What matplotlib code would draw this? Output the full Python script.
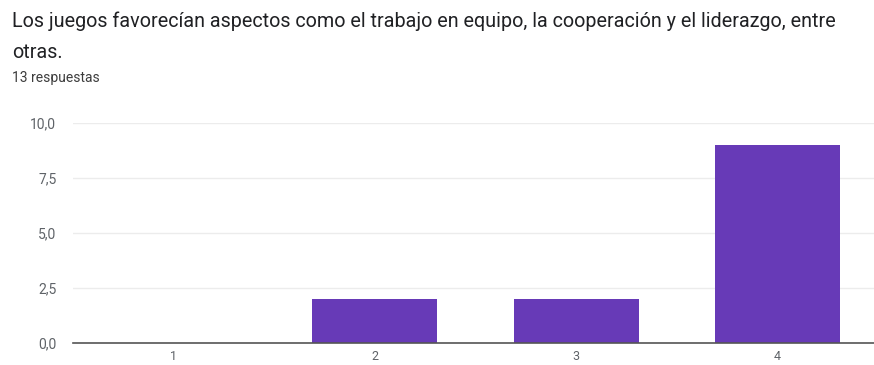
import matplotlib
matplotlib.use("Agg")
import matplotlib.pyplot as plt
from matplotlib.ticker import FuncFormatter

title_line1 = "Los juegos favorecían aspectos como el trabajo en equipo, la cooperación y el liderazgo, entre"
title_line2 = "otras."
subtitle = "13 respuestas"
categories = [1, 2, 3, 4]
counts = [0, 2, 2, 9]
yticks = [0, 2.5, 5, 7.5, 10]

plt.rcParams['font.family'] = ['Roboto', 'DejaVu Sans']

fig = plt.figure(figsize=(8.74, 3.65), dpi=100)
fig.text(12/874, 1 - 27/365, title_line1, fontsize=14.2, color='#202124', va='baseline', ha='left')
fig.text(12/874, 1 - 58/365, title_line2, fontsize=14.2, color='#202124', va='baseline', ha='left')
fig.text(12/874, 1 - 82/365, subtitle, fontsize=10, color='#3c3c3c', va='baseline', ha='left')

ax = fig.add_axes([73/874, 22/365, 805/874, 220/365])
ax.bar(categories, counts, width=0.62, color='#673ab7', zorder=3)
ax.set_xlim(0.5, 4.5)
ax.set_ylim(0, 10)
ax.set_yticks(yticks)
ax.yaxis.set_major_formatter(FuncFormatter(lambda v, p: f"{v:.1f}".replace('.', ',')))
ax.set_xticks(categories)
ax.set_xticklabels([str(c) for c in categories])
ax.grid(axis='y', color='#ececec', linewidth=1, zorder=0)
for s in ['top', 'right', 'left']:
    ax.spines[s].set_visible(False)
ax.spines['bottom'].set_color('#555555')
ax.spines['bottom'].set_linewidth(1.2)
ax.spines['bottom'].set_zorder(4)
ax.tick_params(axis='both', length=0, colors='#5f6368')
ax.tick_params(axis='x', pad=5, labelsize=9)
ax.tick_params(axis='y', pad=12, labelsize=10)

fig.savefig('out.png', dpi=100)
